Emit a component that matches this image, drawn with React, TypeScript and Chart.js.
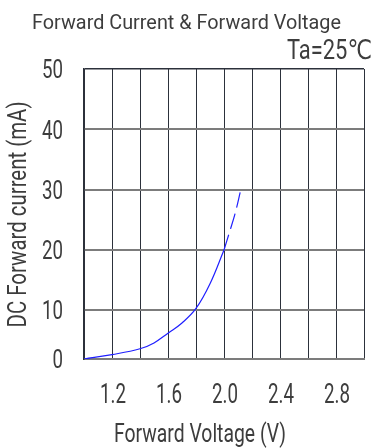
import React, { useEffect, useRef } from 'react';
import { Chart, registerables, LinearScale } from 'chart.js';

// ---- data ----
const voltageSolid = [1.0, 1.2, 1.4, 1.5, 1.6, 1.7, 1.8, 1.9, 2.0];
const currentSolid = [0, 0.9, 2.1, 3.3, 5.3, 7.4, 10.3, 14.4, 20];
const voltageDashed = [2.0, 2.04, 2.08, 2.12];
const currentDashed = [20, 23.0, 26.1, 30];
const xTickLabels = ['1.2', '1.6', '2.0', '2.4', '2.8'];
const yTickValues = [0, 10, 20, 30, 40, 50];

const chartTitle = 'Forward Current & Forward Voltage';
const conditionText = 'Ta=25℃';
const xTitle = 'Forward Voltage (V)';
const yTitle = 'DC Forward current (mA)';

const X_MIN = 1.0;
const X_MAX = 3.0;
const Y_MAX = 50;
const Y_BREAK = 10;
const LOW_FRACTION = 0.168; // the 0–10 band is drawn compressed in the reference

const FAMILY = "Roboto, 'DejaVu Sans', sans-serif";
const TEXT = '#3d3d3d';

class SegmentedScale extends LinearScale {
  static id = 'segmented';
  static defaults = LinearScale.defaults;
  getPixelForValue(value: any) {
    if (value === null || value === undefined || isNaN(value)) return NaN;
    const v = Number(value);
    const d =
      v <= Y_BREAK
        ? (v / Y_BREAK) * LOW_FRACTION
        : LOW_FRACTION + ((v - Y_BREAK) / (Y_MAX - Y_BREAK)) * (1 - LOW_FRACTION);
    return this.getPixelForDecimal(d);
  }
  getValueForPixel(pixel: number) {
    const d = this.getDecimalForPixel(pixel);
    return d <= LOW_FRACTION
      ? (d / LOW_FRACTION) * Y_BREAK
      : Y_BREAK + ((d - LOW_FRACTION) / (1 - LOW_FRACTION)) * (Y_MAX - Y_BREAK);
  }
}

Chart.register(...registerables, SegmentedScale);

// draw text horizontally condensed to a target width
function drawFitted(
  ctx: CanvasRenderingContext2D,
  text: string,
  x: number,
  y: number,
  size: number,
  targetWidth: number,
  align: CanvasTextAlign,
) {
  ctx.font = `400 ${size}px ${FAMILY}`;
  const w = ctx.measureText(text).width || 1;
  ctx.save();
  ctx.translate(x, y);
  ctx.scale(targetWidth / w, 1);
  ctx.textAlign = align;
  ctx.fillText(text, 0, 0);
  ctx.restore();
}

const textPlugin = {
  id: 'textPlugin',
  afterDraw(chart: any) {
    const { ctx } = chart;
    const xs = chart.scales.x;
    const ys = chart.scales.y;
    ctx.save();
    ctx.fillStyle = TEXT;
    ctx.textBaseline = 'alphabetic';

    // titles
    drawFitted(ctx, chartTitle, 186.5, 29, 20, 309, 'center');
    drawFitted(ctx, conditionText, 372, 59, 27, 85, 'right');
    drawFitted(ctx, xTitle, 200, 441.5, 26, 172, 'center');

    ctx.save();
    ctx.translate(26, 214.5);
    ctx.rotate(-Math.PI / 2);
    drawFitted(ctx, yTitle, 0, 0, 26, 226, 'center');
    ctx.restore();

    // tick labels, positioned by the chart's scales
    const tickSize = 26;
    ctx.font = `400 ${tickSize}px ${FAMILY}`;
    const ky = 21 / (ctx.measureText('40').width || 1);
    const kx = 26 / (ctx.measureText('1.2').width || 1);
    for (const v of yTickValues) {
      const py = ys.getPixelForValue(v);
      const label = String(v);
      ctx.font = `400 ${tickSize}px ${FAMILY}`;
      const w = ctx.measureText(label).width * ky;
      drawFitted(ctx, label, 63, py + 9.2, tickSize, w, 'right');
    }
    for (const s of xTickLabels) {
      const px = xs.getPixelForValue(Number(s));
      ctx.font = `400 ${tickSize}px ${FAMILY}`;
      const w = ctx.measureText(s).width * kx;
      drawFitted(ctx, s, px + 1, 402.5, tickSize + 1, w, 'center');
    }
    ctx.restore();
  },
};

export default function App() {
  const ref = useRef<HTMLCanvasElement>(null);

  useEffect(() => {
    if (!ref.current) return;
    const chart = new Chart(ref.current, {
      type: 'line',
      data: {
        datasets: [
          {
            label: 'IF',
            data: voltageSolid.map((x, i) => ({ x, y: currentSolid[i] })),
            borderColor: '#1f1fff',
            borderWidth: 1.2,
            pointRadius: 0,
            tension: 0.4,
            fill: false,
          },
          {
            label: 'IF (ext.)',
            data: voltageDashed.map((x, i) => ({ x, y: currentDashed[i] })),
            borderColor: '#1f1fff',
            borderWidth: 1.2,
            borderDash: [16, 6],
            pointRadius: 0,
            tension: 0.4,
            fill: false,
          },
        ],
      },
      options: {
        responsive: false,
        animation: false,
        layout: { padding: { top: 69, right: 13, left: 0, bottom: 0 } },
        plugins: {
          legend: { display: false },
          title: { display: false },
          tooltip: { enabled: false },
        },
        scales: {
          x: {
            type: 'linear',
            min: X_MIN,
            max: X_MAX,
            afterFit: (s: any) => {
              s.height = 89;
            },
            ticks: { stepSize: 0.2, autoSkip: false, display: false },
            grid: { drawTicks: false, color: '#2c313b', lineWidth: 1 },
            border: { color: '#7c7c7c', width: 2 },
          },
          y: {
            type: 'segmented' as any,
            min: 0,
            max: Y_MAX,
            afterFit: (s: any) => {
              s.width = 84;
            },
            afterBuildTicks: (s: any) => {
              s.ticks = yTickValues.map((value) => ({ value }));
            },
            ticks: { display: false },
            grid: {
              drawTicks: false,
              color: (c: any) => (c.tick && c.tick.value === Y_MAX ? '#2c313b' : '#7c7c7c'),
              lineWidth: (c: any) => (c.tick && c.tick.value === Y_MAX ? 1.5 : 2),
            },
            border: { color: '#2c313b', width: 1.5 },
          },
        },
      },
      plugins: [textPlugin],
    } as any);
    return () => chart.destroy();
  }, []);

  return (
    <div style={{ position: 'fixed', left: 0, top: 0, width: 377, height: 448, background: '#fff' }}>
      <canvas ref={ref} width={377} height={448} style={{ display: 'block' }} />
    </div>
  );
}
